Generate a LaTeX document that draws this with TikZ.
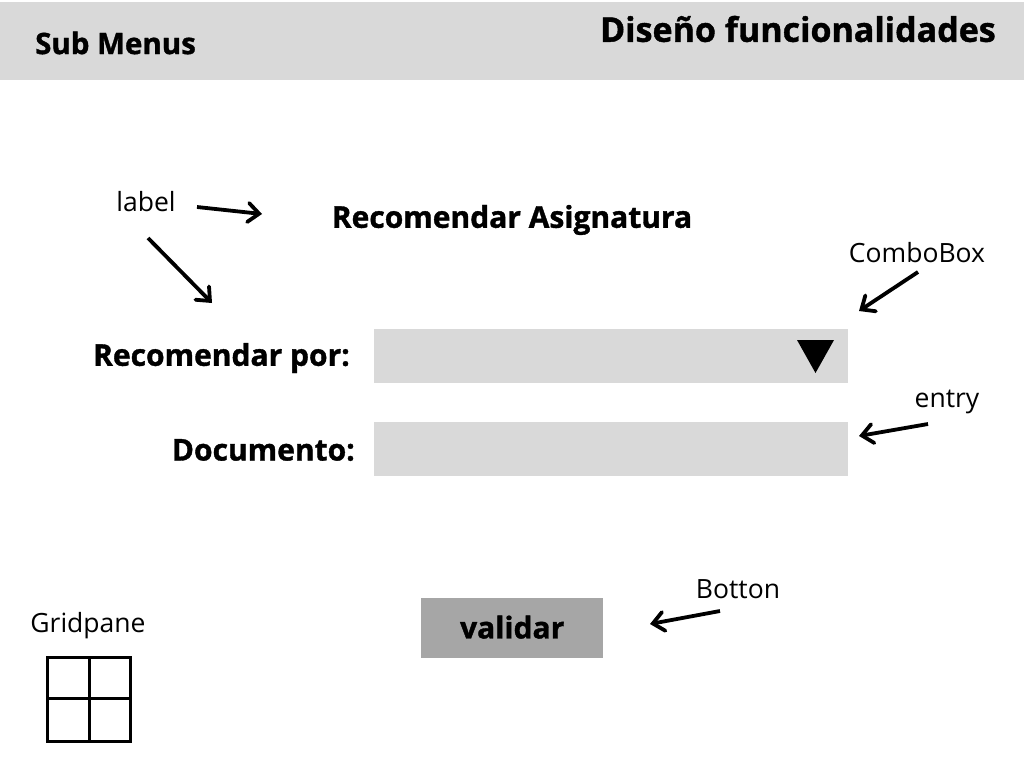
\documentclass[tikz,border=0pt]{standalone}
\usepackage{fontspec}
\setmainfont{Open Sans}[BoldFeatures={FakeBold=1.2}]
\usetikzlibrary{arrows.meta}
\definecolor{bandgray}{HTML}{D9D9D9}
\definecolor{btngray}{HTML}{A6A6A6}
\tikzset{
  ttl/.style={inner sep=0pt, font=\fontsize{30}{36}\selectfont\bfseries},
  note/.style={inner sep=0pt, font=\fontsize{26.5}{32}\selectfont},
  fieldbox/.style={fill=bandgray, draw=none},
  ptr/.style={line width=3.8pt, -{Straight Barb[length=11pt,width=19pt,line cap=round]}},
}
\begin{document}
\begin{tikzpicture}[x=1pt,y=-1pt]
\useasboundingbox (0,0) rectangle (1024,768);
\fill[white] (0,0) rectangle (1024,768);
% header band
\fill[bandgray] (0,2) rectangle (1024,80);
\node[ttl, anchor=west, font=\fontsize{29.5}{34}\selectfont\bfseries] (sub) at (35,43) {Sub Menus};
\node[ttl, anchor=east, font=\fontsize{34}{40}\selectfont\bfseries] (dis) at (996,29) {Diseño funcionalidades};
% title label
\node[ttl] (title) at (512,220) {Recomendar Asignatura};
\node[note] (lab) at (146,202) {label};
\coordinate (labA) at (197,207);
\coordinate (labAe) at (262,214);
\coordinate (labB) at (148,238);
\coordinate (labBe) at (212,303);
\draw[ptr] (labA) -- (labAe);
\draw[ptr] (labB) -- (labBe);
% combo
\node[ttl, anchor=east] (rp) at (350,358) {Recomendar por:};
\node[fieldbox, minimum width=474pt, minimum height=54pt, inner sep=0pt, anchor=north west] (combo) at (374,329) {};
\fill[black] (797,340) -- (834,340) -- (815.5,373) -- cycle;
\node[note] (cb) at (917,253) {ComboBox};
\coordinate (cbA) at (918,272);
\coordinate (cbAe) at (859,311);
\draw[ptr] (cbA) -- (cbAe);
% entry
\node[ttl, anchor=east] (doc) at (355,450) {Documento:};
\node[fieldbox, minimum width=474pt, minimum height=54pt, inner sep=0pt, anchor=north west] (entry) at (374,422) {};
\node[note] (en) at (947,402) {entry};
\coordinate (enA) at (928,424);
\coordinate (enAe) at (859,436);
\draw[ptr] (enA) -- (enAe);
% button
\node[fill=btngray, minimum width=182pt, minimum height=60pt, inner sep=0pt, anchor=north west] (btn) at (421,598) {};
\node[ttl] (val) at ([yshift=1pt]btn.center) {validar};
\node[note] (bt) at (738,589) {Botton};
\coordinate (btA) at (720,611);
\coordinate (btAe) at (650,624);
\draw[ptr] (btA) -- (btAe);
% gridpane
\node[note] (gp) at (88,626) {Gridpane};
\draw[line width=3pt] (47,657) rectangle (130,741);
\draw[line width=3pt] (89,657) -- (89,741);
\draw[line width=3pt] (47,698) -- (130,698);
\end{tikzpicture}
\end{document}
